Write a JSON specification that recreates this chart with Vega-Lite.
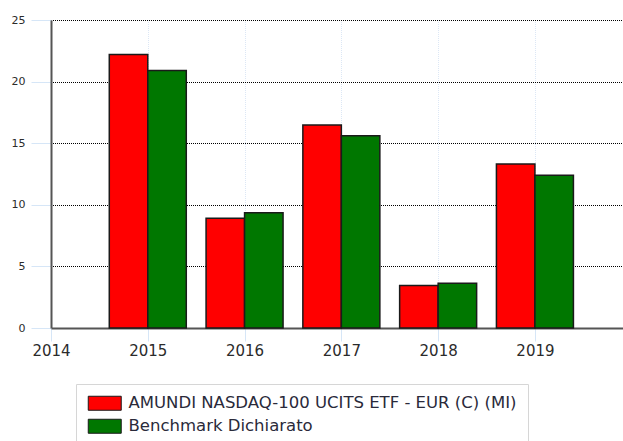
{
  "$schema": "https://vega.github.io/schema/vega-lite/v6.json",
  "width": 572,
  "height": 308,
  "autosize": "none",
  "padding": {"left": 51, "top": 20, "right": 0, "bottom": 113},
  "background": "white",
  "config": {
    "view": {"stroke": null},
    "font": "DejaVu Sans"
  },
  "data": {
    "values": [
      {"year": 2015, "series": "AMUNDI NASDAQ-100 UCITS ETF - EUR (C) (MI)", "value": 22.2},
      {"year": 2015, "series": "Benchmark Dichiarato", "value": 20.9},
      {"year": 2016, "series": "AMUNDI NASDAQ-100 UCITS ETF - EUR (C) (MI)", "value": 8.9},
      {"year": 2016, "series": "Benchmark Dichiarato", "value": 9.35},
      {"year": 2017, "series": "AMUNDI NASDAQ-100 UCITS ETF - EUR (C) (MI)", "value": 16.47},
      {"year": 2017, "series": "Benchmark Dichiarato", "value": 15.6},
      {"year": 2018, "series": "AMUNDI NASDAQ-100 UCITS ETF - EUR (C) (MI)", "value": 3.44},
      {"year": 2018, "series": "Benchmark Dichiarato", "value": 3.64},
      {"year": 2019, "series": "AMUNDI NASDAQ-100 UCITS ETF - EUR (C) (MI)", "value": 13.32},
      {"year": 2019, "series": "Benchmark Dichiarato", "value": 12.4}
    ]
  },
  "encoding": {
    "x": {
      "field": "year",
      "type": "quantitative",
      "scale": {"domain": [2014, 2019.91], "nice": false, "zero": false, "padding": 0},
      "axis": {
        "title": null,
        "values": [2014, 2015, 2016, 2017, 2018, 2019],
        "format": "d",
        "labelFontSize": 15,
        "labelColor": "#2b2b2b",
        "labelPadding": 2,
        "labelFlush": false,
        "tickColor": "#d6e6f7",
        "tickSize": 13,
        "tickWidth": 1,
        "domainColor": "#555555",
        "domainWidth": 2,
        "grid": true,
        "gridColor": "#dce7f5",
        "gridDash": [1, 1],
        "gridDashOffset": 0.5,
        "gridWidth": 1
      }
    },
    "y": {
      "field": "value",
      "type": "quantitative",
      "scale": {"domain": [0, 25], "nice": false, "padding": 0},
      "axis": {
        "title": null,
        "values": [0, 5, 10, 15, 20, 25],
        "labelFontSize": 11,
        "labelColor": "#2b2b2b",
        "labelPadding": 6,
        "tickColor": "#d6e6f7",
        "tickSize": 20,
        "tickWidth": 1,
        "domainColor": "#555555",
        "domainWidth": 2,
        "grid": true,
        "gridColor": "#000000",
        "gridOpacity": 1,
        "gridDash": [1, 1],
        "gridDashOffset": 0.5,
        "gridWidth": 1
      }
    },
    "color": {
      "field": "series",
      "type": "nominal",
      "scale": {
        "domain": ["AMUNDI NASDAQ-100 UCITS ETF - EUR (C) (MI)", "Benchmark Dichiarato"],
        "range": ["#ff0000", "#007700"]
      },
      "legend": {
        "title": null,
        "orient": "none",
        "legendX": 25,
        "legendY": 364,
        "direction": "vertical",
        "padding": 11,
        "strokeColor": "#d6d6d6",
        "fillColor": "white",
        "symbolType": "M-2.357,-1H2.357V1H-2.357Z",
        "symbolSize": 196,
        "symbolOffset": 9.5,
        "symbolStrokeColor": "#1a1a1a",
        "symbolStrokeWidth": 1,
        "symbolOpacity": 1,
        "labelFontSize": 16.5,
        "labelColor": "#2a2a3a",
        "labelOffset": 15.5,
        "labelLimit": 600,
        "rowPadding": 4
      }
    }
  },
  "layer": [
    {
      "transform": [{"filter": "datum.series === 'AMUNDI NASDAQ-100 UCITS ETF - EUR (C) (MI)'"}],
      "mark": {"type": "bar", "width": 38.5, "xOffset": -19.25, "stroke": "#1a1a1a", "strokeWidth": 1.5, "opacity": 1}
    },
    {
      "transform": [{"filter": "datum.series === 'Benchmark Dichiarato'"}],
      "mark": {"type": "bar", "width": 38.5, "xOffset": 19.25, "stroke": "#1a1a1a", "strokeWidth": 1.5, "opacity": 1}
    }
  ]
}
